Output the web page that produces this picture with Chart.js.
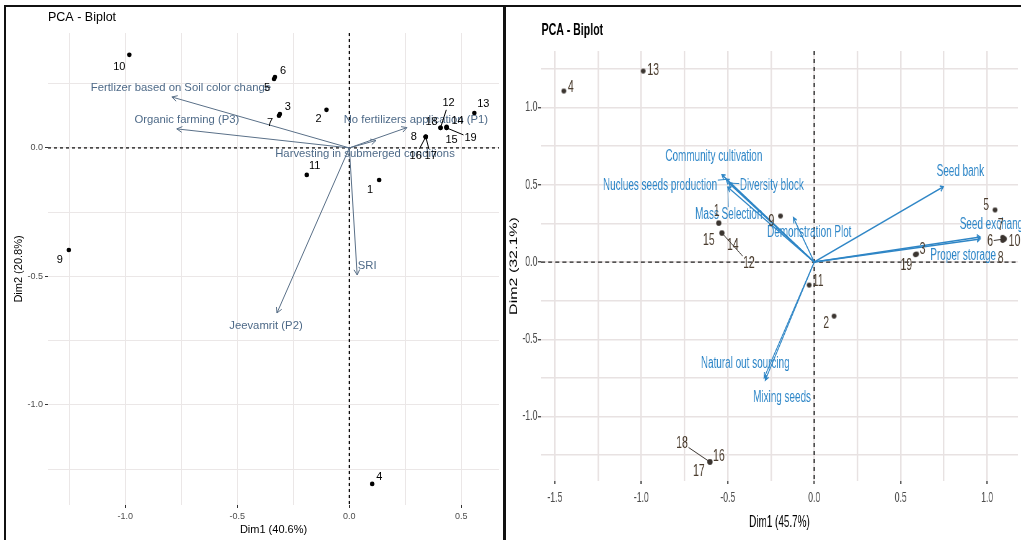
<!DOCTYPE html>
<html>
<head>
<meta charset="utf-8">
<title>PCA - Biplot</title>
<script src="https://cdn.jsdelivr.net/npm/chart.js@4.4.0/dist/chart.umd.min.js"></script>
<style>
  body { margin: 0; background: #fff; }
  #wrap { position: relative; width: 1021px; height: 540px; overflow: hidden; background: #fff; }
  .pane { position: absolute; top: 7px; height: 533px; overflow: hidden; }
  #leftPane { left: 6px; width: 497px; }
  #rightPane { left: 507px; width: 514px; }
  /* right figure is a horizontally squeezed image: draw wider, then squeeze */
  #rightInner { position: absolute; left: 0; top: 0; width: 829px; height: 533px; transform: scaleX(0.62); transform-origin: 0 0; }
  .rule { position: absolute; background: #111; }
</style>
</head>
<body>
<div id="wrap">
  <div class="pane" id="leftPane"><canvas id="leftChart"></canvas></div>
  <div class="pane" id="rightPane"><div id="rightInner"><canvas id="rightChart"></canvas></div></div>
  <div class="rule" style="left:4px;top:5px;width:1017px;height:2px"></div>
  <div class="rule" style="left:4px;top:5px;width:2px;height:535px"></div>
  <div class="rule" style="left:503px;top:5px;width:3px;height:535px"></div>
</div>
<script>
// ---------------- Data: left biplot ----------------
const leftIds = ["1","2","3","4","5","6","7","8","9","10","11","12","13","14","15","16","17","18","19"];
const leftDim1 = [0.133, -0.102, -0.31, 0.102, -0.336, -0.332, -0.314, 0.341, -1.252, -0.982, -0.19, 0.407, 0.558, 0.434, 0.434, 0.341, 0.341, 0.407, 0.434];
const leftDim2 = [-0.125, 0.148, 0.132, -1.307, 0.268, 0.276, 0.125, 0.043, -0.397, 0.362, -0.105, 0.078, 0.136, 0.078, 0.082, 0.043, 0.043, 0.078, 0.078];
const leftVars = ["Fertlizer based on Soil color change", "Organic farming (P3)", "No fertilizers application (P1)", "Harvesting in submerged conditions", "SRI", "Jeevamrit (P2)"];
const leftVarDim1 = [-0.792, -0.77, 0.257, 0.119, 0.035, -0.323];
const leftVarDim2 = [0.198, 0.074, 0.079, 0.029, -0.494, -0.642];

// ---------------- Data: right biplot ----------------
const rightIds = ["1","2","3","4","5","6","7","8","9","10","11","12","13","14","15","16","17","18","19"];
const rightDim1 = [-0.552, 0.115, 0.592, -1.448, 1.046, 1.098, 1.09, 1.09, -0.195, 1.1, -0.029, -0.534, -0.989, -0.534, -0.552, -0.603, -0.603, -0.603, 0.585];
const rightDim2 = [0.252, -0.35, 0.052, 1.107, 0.337, 0.149, 0.16, 0.14, 0.298, 0.15, -0.149, 0.188, 1.236, 0.188, 0.252, -1.294, -1.294, -1.294, 0.048];
const rightVars = ["Seed bank", "Seed exchange", "Proper storage", "Community cultivation", "Nuclues seeds production", "Diversity block", "Mass Selection", "Demonstration Plot", "Natural out sourcing", "Mixing seeds"];
const rightVarDim1 = [0.747, 0.96, 0.96, -0.534, -0.51, -0.494, -0.5, -0.121, -0.283, -0.29];
const rightVarDim2 = [0.487, 0.162, 0.15, 0.565, 0.535, 0.511, 0.485, 0.288, -0.764, -0.75];

// ---------------- Label placement (screen pixel offsets, like ggrepel output) ----------------
const leftIdOffsets = [[-9,10],[-8,9],[8,-7],[7,-7],[-7,9],[8,-6],[-9,7],[-12,0],[-9,10],[-10,12],[8,-9],[8,-25],[9,-9],[11,-7],[5,13],[-10,19],[5,19],[-9,-6],[24,10]];
const leftIdSegs = ["12","16","17","19"];
const leftVarOffsets = [[9,-9],[10,-9],[9,-8],[-11,13],[10,-9],[-11,13]];
const rightIdOffsets = [[-2,-12],[-8,7],[6,-5],[7,-4],[-9,-5],[-14,2],[-2,-12],[-2,18],[-9,5],[10,2],[9,-4],[27,30],[10,-1],[11,12],[-10,17],[9,-6],[-11,9],[-28,-19],[-9,11]];
const rightIdSegs = ["6","12","18"];
const rightVarOffsets = [[17,-15],[14,-12],[-17,17],[-8,-18],[-66,6],[43,2],[1,27],[16,15],[-20,-17],[18,20]];
const rightVarSegs = ["Nuclues seeds production", "Diversity block", "Mass Selection"];

const K = 0.62; // horizontal squeeze of the right figure

// ---------------- Helper Functions ----------------
function isHalf(v) {
  return Math.abs(v * 2 - Math.round(v * 2)) < 1e-6;
}
function halfLabel(v) {
  return isHalf(v) ? (Math.round(v * 2) / 2).toFixed(1) : "";
}
// clip a segment from (px,py) to a label box centred at (cx,cy)
function edgePoint(px, py, cx, cy, hw, hh) {
  const dx = px - cx, dy = py - cy;
  const s = Math.min(hw / (Math.abs(dx) || 1e-9), hh / (Math.abs(dy) || 1e-9));
  if (s >= 1) return null;
  return [cx + dx * s, cy + dy * s];
}
function drawArrow(ctx, x0, y0, x1, y1, len) {
  const a = Math.atan2(y1 - y0, x1 - x0);
  ctx.beginPath();
  ctx.moveTo(x0, y0);
  ctx.lineTo(x1, y1);
  ctx.moveTo(x1 - len * Math.cos(a - 0.5), y1 - len * Math.sin(a - 0.5));
  ctx.lineTo(x1, y1);
  ctx.lineTo(x1 - len * Math.cos(a + 0.5), y1 - len * Math.sin(a + 0.5));
  ctx.stroke();
}
function drawLabel(ctx, text, px, py, off, sx, withSeg, font, color, segColor) {
  ctx.font = font;
  const cx = px + off[0] * sx, cy = py + off[1];
  if (withSeg) {
    const w = ctx.measureText(text).width;
    const e = edgePoint(px, py, cx, cy, w / 2 + 1, 7);
    if (e) {
      ctx.strokeStyle = segColor;
      ctx.lineWidth = 1;
      ctx.beginPath();
      ctx.moveTo(px, py);
      ctx.lineTo(e[0], e[1]);
      ctx.stroke();
    }
  }
  ctx.fillStyle = color;
  ctx.fillText(text, cx, cy);
}
// round dot that stays round after the horizontal squeeze
function ellipseDot(r, k, color) {
  const c = document.createElement("canvas");
  c.width = Math.ceil(2 * r / k) + 2;
  c.height = Math.ceil(2 * r) + 2;
  const g = c.getContext("2d");
  g.fillStyle = color;
  g.beginPath();
  g.ellipse(c.width / 2, c.height / 2, r / k, r, 0, 0, 2 * Math.PI);
  g.fill();
  return c;
}

// ---------------- Biplot plugin ----------------
const biplotPlugin = {
  id: "biplot",
  beforeDatasetsDraw(chart, args, o) {
    const { ctx, chartArea, scales } = chart;
    const x0 = scales.x.getPixelForValue(0);
    const y0 = scales.y.getPixelForValue(0);
    ctx.save();
    ctx.strokeStyle = o.zeroColor;
    ctx.lineWidth = o.zeroWidth;
    ctx.setLineDash(o.zeroDashH);
    ctx.beginPath();
    ctx.moveTo(chartArea.left, y0);
    ctx.lineTo(chartArea.right, y0);
    ctx.stroke();
    ctx.lineWidth = o.zeroWidth * o.sx;
    ctx.setLineDash(o.zeroDashV);
    ctx.beginPath();
    ctx.moveTo(x0, chartArea.top);
    ctx.lineTo(x0, chartArea.bottom);
    ctx.stroke();
    ctx.restore();
  },
  afterDatasetsDraw(chart, args, o) {
    const { ctx, chartArea, scales } = chart;
    const sx = scales.x, sy = scales.y;
    const x0 = sx.getPixelForValue(0);
    const y0 = sy.getPixelForValue(0);
    ctx.save();
    ctx.textAlign = "center";
    ctx.textBaseline = "middle";

    // variable arrows
    ctx.strokeStyle = o.arrowColor;
    ctx.lineWidth = o.arrowWidth;
    o.varX.forEach((vx, i) => {
      drawArrow(ctx, x0, y0, sx.getPixelForValue(vx), sy.getPixelForValue(o.varY[i]), 6);
    });
    o.vars.forEach((name, i) => {
      const hx = sx.getPixelForValue(o.varX[i]);
      const hy = sy.getPixelForValue(o.varY[i]);
      drawLabel(ctx, name, hx, hy, o.varOffsets[i], o.sx, o.varSegs.includes(name), o.varFont, o.varColor, o.arrowColor);
    });

    // individual labels
    o.ids.forEach((id, i) => {
      const px = sx.getPixelForValue(o.idX[i]);
      const py = sy.getPixelForValue(o.idY[i]);
      drawLabel(ctx, id, px, py, o.idOffsets[i], o.sx, o.idSegs.includes(id), o.idFont, o.idColor, o.idSegColor);
    });

    // panel title
    ctx.textAlign = "left";
    ctx.fillStyle = "#000";
    ctx.font = o.titleFont;
    ctx.fillText("PCA - Biplot", chartArea.left + o.titleDx, chartArea.top + o.titleDy);
    ctx.restore();
  },
};

function scaleOpts(s) {
  return {
    type: "linear",
    min: s.min,
    max: s.max,
    border: { display: false },
    grid: {
      color: s.gridColor,
      lineWidth: s.gridWidth,
      tickColor: (c) => (isHalf(c.tick.value) ? "#333" : "rgba(0,0,0,0)"),
      tickLength: s.tickLength,
      tickWidth: s.tickWidth,
    },
    ticks: {
      stepSize: 0.25,
      includeBounds: false,
      autoSkip: false,
      maxRotation: 0,
      padding: s.tickPad,
      color: "#4d4d4d",
      font: s.tickFont,
      callback: halfLabel,
    },
    title: { display: true, text: s.title, color: "#000", font: s.titleFont, padding: s.titlePad },
    afterFit: s.fit,
  };
}

const sans = "'Liberation Sans', Arial, sans-serif";

// ---------------- Left chart ----------------
new Chart(document.getElementById("leftChart"), {
  type: "scatter",
  data: {
    datasets: [{
      data: leftDim1.map((x, i) => ({ x: x, y: leftDim2[i] })),
      backgroundColor: "#000",
      borderWidth: 0,
      pointRadius: 2.3,
    }],
  },
  options: {
    responsive: true,
    maintainAspectRatio: false,
    animation: false,
    layout: { padding: { top: 26, left: 0, right: 0, bottom: 0 } },
    plugins: {
      legend: { display: false },
      tooltip: { enabled: false },
      biplot: {
        sx: 1,
        ids: leftIds, idX: leftDim1, idY: leftDim2, idOffsets: leftIdOffsets, idSegs: leftIdSegs,
        idFont: "11px " + sans, idColor: "#000", idSegColor: "#000",
        vars: leftVars, varX: leftVarDim1, varY: leftVarDim2, varOffsets: leftVarOffsets, varSegs: [],
        varFont: "11.3px " + sans, varColor: "#4e6a88",
        arrowColor: "#5a7088", arrowWidth: 1,
        zeroColor: "#000", zeroWidth: 1.2, zeroDashH: [3, 3], zeroDashV: [3, 3],
        titleFont: "12.5px " + sans, titleDx: 0, titleDy: -15,
      },
    },
    scales: {
      x: scaleOpts({ min: -1.345, max: 0.668, title: "Dim1 (40.6%)",
        tickFont: { size: 9, family: sans }, titleFont: { size: 11, family: sans },
        fit: (s) => { s.height = 35; }, tickPad: 3, titlePad: { top: 0, bottom: 3 },
        gridColor: "#ebe7e7", gridWidth: 1, tickLength: 3, tickWidth: 1 }),
      y: scaleOpts({ min: -1.389, max: 0.447, title: "Dim2 (20.8%)",
        tickFont: { size: 9, family: sans }, titleFont: { size: 11, family: sans },
        fit: (s) => { s.width = 42; }, tickPad: 2, titlePad: { top: 6, bottom: 0 },
        gridColor: "#ebe7e7", gridWidth: 1, tickLength: 3, tickWidth: 1 }),
    },
  },
  plugins: [biplotPlugin],
});

// ---------------- Right chart ----------------
new Chart(document.getElementById("rightChart"), {
  type: "scatter",
  data: {
    datasets: [{
      data: rightDim1.map((x, i) => ({ x: x, y: rightDim2[i] })),
      pointStyle: ellipseDot(2.4, K, "#3b3530"),
      pointRadius: 2.4,
    }],
  },
  options: {
    responsive: true,
    maintainAspectRatio: false,
    animation: false,
    layout: { padding: { top: 44, left: 0, right: 0, bottom: 0 } },
    plugins: {
      legend: { display: false },
      tooltip: { enabled: false },
      biplot: {
        sx: 1 / K,
        ids: rightIds, idX: rightDim1, idY: rightDim2, idOffsets: rightIdOffsets, idSegs: rightIdSegs,
        idFont: "17px " + sans, idColor: "#4a3c2e", idSegColor: "#3b3530",
        vars: rightVars, varX: rightVarDim1, varY: rightVarDim2, varOffsets: rightVarOffsets, varSegs: rightVarSegs,
        varFont: "16px " + sans, varColor: "#2f87c8",
        arrowColor: "#2f86c6", arrowWidth: 1.5,
        zeroColor: "#222", zeroWidth: 1.3, zeroDashH: [6.5, 5], zeroDashV: [4, 4],
        titleFont: "bold 17px " + sans, titleDx: 1, titleDy: -21,
      },
    },
    scales: {
      x: scaleOpts({ min: -1.58, max: 1.178, title: "Dim1 (45.7%)",
        tickFont: { size: 14, family: sans }, titleFont: { size: 16, family: sans },
        fit: (s) => { s.height = 59; }, tickPad: 6, titlePad: { top: 0, bottom: 8 },
        gridColor: "#e8e2e2", gridWidth: 1.5 / K, tickLength: 3, tickWidth: 1.2 / K }),
      y: scaleOpts({ min: -1.417, max: 1.366, title: "Dim2 (32.1%)",
        tickFont: { size: 14, family: sans }, titleFont: { size: 16, family: sans },
        fit: (s) => { s.width = 34 / K; }, tickPad: 1, titlePad: { top: 2, bottom: 0 },
        gridColor: "#e8e2e2", gridWidth: 1.5, tickLength: 3 / K, tickWidth: 1.2 }),
    },
  },
  plugins: [biplotPlugin],
});
</script>
</body>
</html>
